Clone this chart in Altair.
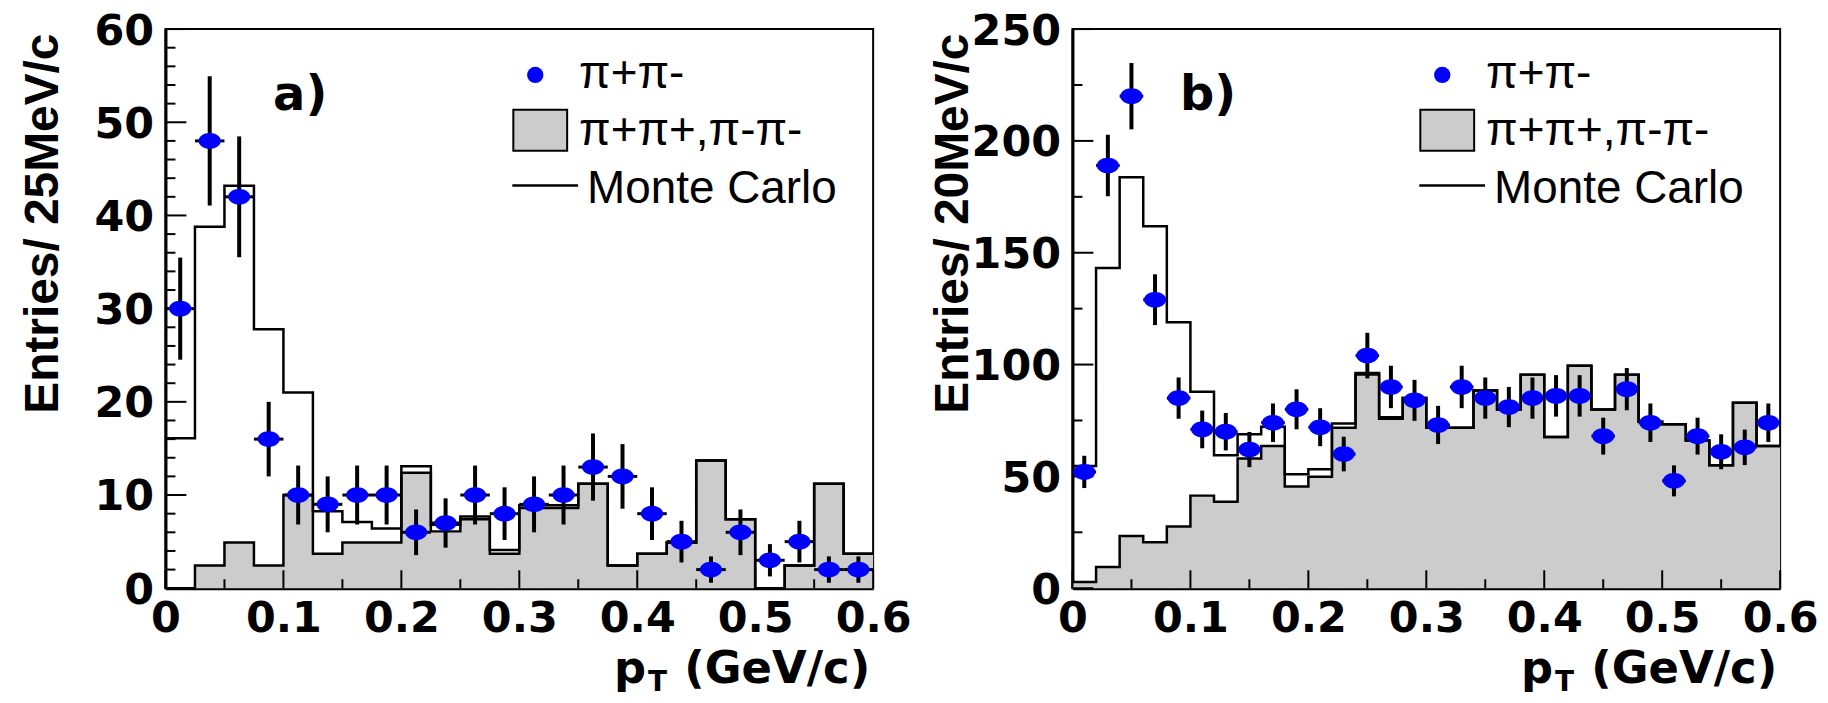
import math
import altair as alt
import pandas as pd

# ---------------- data ----------------
# panel a) : 25 MeV/c bins from 0 to 0.6 GeV/c
a_bin = 0.025
a_lo = [0.0, 0.025, 0.05, 0.075, 0.1, 0.125, 0.15, 0.175, 0.2, 0.225, 0.25, 0.275,
        0.3, 0.325, 0.35, 0.375, 0.4, 0.425, 0.45, 0.475, 0.5, 0.525, 0.55, 0.575]
a_unlike = [30, 48, 42, 16, 10, 9, 10, 10, 6, 7, 10, 8,
            9, 10, 13, 12, 8, 5, 2, 6, 3, 5, 2, 2]
a_like = [0, 2.45, 4.9, 2.45, 10.0, 3.7, 4.9, 4.9, 12.4, 6.1, 7.4, 3.7,
          8.6, 8.6, 11.2, 2.45, 3.7, 4.9, 13.7, 7.4, 0, 2.45, 11.2, 3.7]
a_mc = [16.1, 38.8, 43.2, 27.8, 21.0, 8.25, 7.1, 6.4, 13.1, 6.8, 7.7, 4.1,
        8.9, 8.9, 11.2, 2.45, 3.7, 4.9, 13.7, 7.4, 0, 2.45, 11.2, 3.7]

# panel b) : 20 MeV/c bins from 0 to 0.6 GeV/c
b_bin = 0.02
b_lo = [0.0, 0.02, 0.04, 0.06, 0.08, 0.1, 0.12, 0.14, 0.16, 0.18, 0.2, 0.22, 0.24, 0.26, 0.28,
        0.3, 0.32, 0.34, 0.36, 0.38, 0.4, 0.42, 0.44, 0.46, 0.48, 0.5, 0.52, 0.54, 0.56, 0.58]
b_unlike = [52, 189, 220, 129, 85, 71, 70, 62, 74, 80, 72, 60, 104, 90, 84,
            73, 90, 85, 81, 85, 86, 86, 68, 89, 74, 48, 68, 61, 63, 74]
b_like = [2.8, 9.5, 23.3, 20.6, 27.6, 41.4, 38.7, 58.0, 63.6, 45.5, 49.8, 71.8, 95.5, 75.8, 85.1,
          71.8, 71.8, 88.4, 79.9, 95.5, 67.6, 99.5, 79.9, 95.5, 74.4, 73.3, 66.1, 55.0, 82.9, 63.6]
b_mc = [54.7, 143.2, 183.7, 161.8, 118.9, 87.8, 59.4, 68.8, 72.2, 51.0, 53.2, 73.7, 96.2, 76.5, 85.1,
        71.8, 71.8, 88.4, 79.9, 95.5, 67.6, 99.5, 79.9, 95.5, 74.4, 73.3, 66.1, 55.0, 82.9, 63.6]

# axis ticks and labels
x_major = [0, 0.1, 0.2, 0.3, 0.4, 0.5, 0.6]
x_minor = [0.05, 0.15, 0.25, 0.35, 0.45, 0.55]
a_y_major = [0, 10, 20, 30, 40, 50, 60]
a_y_minor = [2, 4, 6, 8, 12, 14, 16, 18, 22, 24, 26, 28, 32, 34, 36, 38,
             42, 44, 46, 48, 52, 54, 56, 58]
b_y_major = [0, 50, 100, 150, 200, 250]
b_y_minor = [25, 75, 125, 175, 225]

legend_labels = ["\u03c0+\u03c0-", "\u03c0+\u03c0+,\u03c0-\u03c0-", "Monte Carlo"]
x_title = ["p", "T", "(GeV/c)"]

W, H = 710, 561
BLUE = "#0000ff"
GREY = "#cccccc"
ELLIPSE = "M-1,0A1,0.7,0,1,0,1,0A1,0.7,0,1,0,-1,0Z"
one = pd.DataFrame({"k": [0]})


def panel(lo, bw, unlike, like, mc, ymax, ymaj, ymin, ytitle, tag, title_x):
    xs = alt.Scale(domain=[0, 0.6], nice=False, zero=False)
    ys = alt.Scale(domain=[0, ymax], nice=False, zero=False)
    xax = alt.Axis(values=x_major, title="", ticks=False, grid=False,
                   labelExpr="datum.value == 0 ? '0' : format(datum.value, '.1f')",
                   domainColor="black", domainWidth=3,
                   labelFont="DejaVu Sans", labelFontSize=43, labelFontWeight="bold",
                   labelColor="black", labelPadding=9, labelFlush=False,
                   labelOverlap=False, labelBound=False)
    yax = alt.Axis(values=ymaj, format="d", title=ytitle, ticks=False, grid=False,
                   domainColor="black", domainWidth=3,
                   labelFont="DejaVu Sans", labelFontSize=43, labelFontWeight="bold",
                   labelColor="black", labelPadding=12, labelOverlap=False,
                   labelBaseline="alphabetic", labelOffset=15, labelFlush=False,
                   titleFont="Liberation Sans", titleFontSize=48, titleFontWeight="bold",
                   titleColor="black", titleAngle=270, titleAlign="right",
                   titleBaseline="alphabetic", titleX=title_x, titleY=4)

    def X(f):
        return alt.X(f, type="quantitative", scale=xs, axis=xax)

    def Y(f):
        return alt.Y(f, type="quantitative", scale=ys, axis=yax)

    bins = pd.DataFrame({"lo": lo, "n": unlike, "like": like, "mc": mc})
    calc = dict(hi=f"datum.lo + {bw}", c=f"datum.lo + {bw / 2}",
                elo="datum.n - sqrt(datum.n)", ehi="datum.n + sqrt(datum.n)")
    base = alt.Chart(bins).transform_calculate(**calc)

    edges = lo + [x_major[-1]]
    st_like = pd.DataFrame({"e": edges, "v": like + [like[-1]]})
    st_mc = pd.DataFrame({"e": edges, "v": mc + [mc[-1]]})

    fill = alt.Chart(st_like).mark_area(
        interpolate="step-after", color=GREY, opacity=1).encode(x=X("e"), y=Y("v"))
    line_like = alt.Chart(st_like).mark_line(
        interpolate="step-after", color="black", strokeWidth=2.5).encode(x=X("e"), y=Y("v"))
    line_mc = alt.Chart(st_mc).mark_line(
        interpolate="step-after", color="black", strokeWidth=2.5).encode(x=X("e"), y=Y("v"))

    # inward ticks (ROOT style)
    tk = []
    for vals, ln in ((x_major, 18), (x_minor, 9)):
        tk.append(alt.Chart(pd.DataFrame({"t": vals})).mark_rule(
            color="black", strokeWidth=2).encode(
            x=X("t"), y=alt.value(H), y2=alt.value(H - ln)))
    for vals, ln in ((ymaj, 21), (ymin, 10)):
        tk.append(alt.Chart(pd.DataFrame({"t": vals})).mark_rule(
            color="black", strokeWidth=2).encode(
            y=Y("t"), x=alt.value(0), x2=alt.value(ln)))

    ev = base.mark_rule(color="black", strokeWidth=4).encode(
        x=X("c"), y=Y("elo"), y2=alt.Y2("ehi"))
    eh = base.mark_rule(color="black", strokeWidth=3).encode(
        x=X("lo"), x2=alt.X2("hi"), y=Y("n"))
    pts = base.mark_point(shape=ELLIPSE, filled=True, color=BLUE, size=500,
                          opacity=1, strokeWidth=0).encode(x=X("c"), y=Y("n"))

    # legend
    leg = [
        alt.Chart(one).mark_point(shape="circle", filled=True, color=BLUE, size=270,
                                  opacity=1, strokeWidth=0).encode(
            x=alt.value(371), y=alt.value(46)),
        alt.Chart(one).mark_rect(fill=GREY, stroke="black", strokeWidth=2, opacity=1).encode(
            x=alt.value(349), x2=alt.value(403), y=alt.value(81), y2=alt.value(122)),
        alt.Chart(one).mark_rule(color="black", strokeWidth=2.5).encode(
            x=alt.value(348), x2=alt.value(414), y=alt.value(157)),
    ]
    for lab, lx, ly in zip(legend_labels, (415, 415, 423), (59, 116, 174)):
        leg.append(alt.Chart(pd.DataFrame({"t": [lab]})).mark_text(
            align="left", baseline="alphabetic", font="Liberation Sans",
            fontSize=46, color="black").encode(
            x=alt.value(lx), y=alt.value(ly), text="t:N"))

    tag_txt = alt.Chart(pd.DataFrame({"t": [tag]})).mark_text(
        align="left", baseline="alphabetic", font="DejaVu Sans", fontSize=48,
        fontWeight="bold", color="black").encode(
        x=alt.value(108), y=alt.value(81), text="t:N")

    xt = [
        alt.Chart(pd.DataFrame({"t": [x_title[0]]})).mark_text(
            align="left", baseline="alphabetic", font="DejaVu Sans", fontSize=45,
            fontWeight="bold", color="black").encode(
            x=alt.value(450), y=alt.value(H + 95), text="t:N"),
        alt.Chart(pd.DataFrame({"t": [x_title[1]]})).mark_text(
            align="left", baseline="alphabetic", font="DejaVu Sans", fontSize=28,
            fontWeight="bold", color="black").encode(
            x=alt.value(484), y=alt.value(H + 103), text="t:N"),
        alt.Chart(pd.DataFrame({"t": [x_title[2]]})).mark_text(
            align="right", baseline="alphabetic", font="DejaVu Sans", fontSize=45,
            fontWeight="bold", color="black").encode(
            x=alt.value(707), y=alt.value(H + 95), text="t:N"),
    ]

    return alt.layer(fill, line_like, line_mc, *tk, ev, eh, pts, *leg, tag_txt, *xt).properties(
        width=W, height=H)


left = panel(a_lo, a_bin, a_unlike, a_like, a_mc, 60, a_y_major, a_y_minor,
             "Entries/ 25MeV/c", "a)", -108)
right = panel(b_lo, b_bin, b_unlike, b_like, b_mc, 250, b_y_major, b_y_minor,
              "Entries/ 20MeV/c", "b)", -105)

chart = alt.hconcat(left, right, spacing=16).properties(
    padding={"left": 11, "top": 0, "right": 0, "bottom": 0},
    background="white",
).configure_view(stroke="black", strokeWidth=2)

chart.save("out.html", embed_options={"renderer": "svg", "actions": False})
